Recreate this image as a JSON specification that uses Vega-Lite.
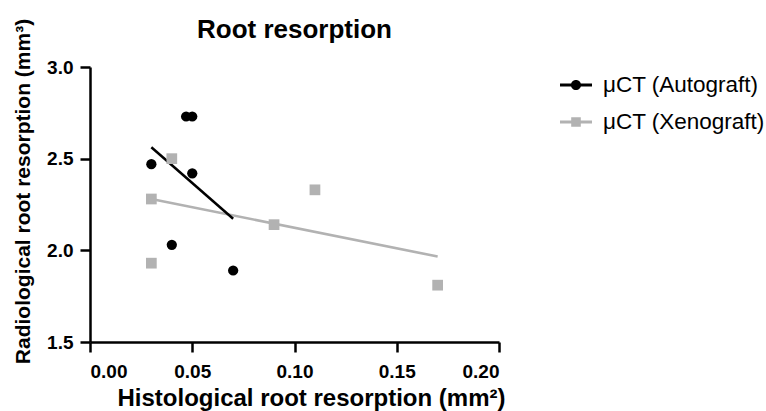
{
  "$schema": "https://vega.github.io/schema/vega-lite/v6.json",
  "width": 409,
  "height": 275,
  "autosize": "none",
  "padding": {"left": 90, "top": 67, "right": 267, "bottom": 69},
  "background": "white",
  "title": {
    "text": "Root resorption",
    "font": "Liberation Sans",
    "fontSize": 26,
    "fontWeight": "bold",
    "color": "black",
    "offset": 0,
    "dy": 25
  },
  "datasets": {
    "points": [
      {"series": "μCT (Autograft)", "histo": 0.03, "radio": 2.47},
      {"series": "μCT (Autograft)", "histo": 0.047, "radio": 2.73},
      {"series": "μCT (Autograft)", "histo": 0.05, "radio": 2.73},
      {"series": "μCT (Autograft)", "histo": 0.05, "radio": 2.42},
      {"series": "μCT (Autograft)", "histo": 0.04, "radio": 2.03},
      {"series": "μCT (Autograft)", "histo": 0.07, "radio": 1.89},
      {"series": "μCT (Xenograft)", "histo": 0.03, "radio": 2.28},
      {"series": "μCT (Xenograft)", "histo": 0.04, "radio": 2.5},
      {"series": "μCT (Xenograft)", "histo": 0.03, "radio": 1.93},
      {"series": "μCT (Xenograft)", "histo": 0.09, "radio": 2.14},
      {"series": "μCT (Xenograft)", "histo": 0.11, "radio": 2.33},
      {"series": "μCT (Xenograft)", "histo": 0.17, "radio": 1.81}
    ],
    "fits": [
      {"series": "μCT (Xenograft)", "histo": 0.03, "radio": 2.28},
      {"series": "μCT (Xenograft)", "histo": 0.17, "radio": 1.966},
      {"series": "μCT (Autograft)", "histo": 0.03, "radio": 2.562},
      {"series": "μCT (Autograft)", "histo": 0.07, "radio": 2.172}
    ]
  },
  "config": {
    "view": {"stroke": null},
    "font": "Liberation Sans",
    "axis": {
      "grid": false,
      "domainColor": "black",
      "domainWidth": 2.5,
      "tickColor": "black",
      "tickWidth": 2.5,
      "tickSize": 10,
      "labelFont": "Liberation Sans",
      "labelFontWeight": "bold",
      "labelFontSize": 19,
      "labelColor": "black",
      "titleFont": "Liberation Sans",
      "titleFontWeight": "bold",
      "titleColor": "black"
    },
    "legend": {
      "title": null,
      "orient": "none",
      "symbolSize": 1024,
      "symbolStrokeWidth": 0,
      "symbolOpacity": 1,
      "labelFont": "Liberation Sans",
      "labelFontSize": 22.5,
      "labelColor": "black",
      "labelOffset": 11,
      "labelLimit": 300
    }
  },
  "resolve": {"scale": {"color": "independent"}, "legend": {"color": "independent"}},
  "encoding": {
    "x": {
      "field": "histo",
      "type": "quantitative",
      "scale": {"domain": [0, 0.2], "nice": false, "zero": false},
      "axis": {
        "values": [0, 0.05, 0.1, 0.15, 0.2],
        "format": ".2f",
        "labelPadding": 10,
        "title": "Histological root resorption (mm²)",
        "titleFontSize": 24,
        "titlePadding": 5,
        "titleX": 221
      }
    },
    "y": {
      "field": "radio",
      "type": "quantitative",
      "scale": {"domain": [1.5, 3.0], "nice": false, "zero": false},
      "axis": {
        "values": [1.5, 2.0, 2.5, 3.0],
        "format": ".1f",
        "labelPadding": 7,
        "title": "Radiological root resorption (mm³)",
        "titleFontSize": 21,
        "titlePadding": 13,
        "titleY": 124
      }
    }
  },
  "layer": [
    {
      "data": {"name": "fits"},
      "transform": [{"filter": "datum.series === 'μCT (Xenograft)'"}],
      "mark": {"type": "line", "strokeWidth": 2.5, "color": "#b2b2b2"},
      "encoding": {}
    },
    {
      "data": {"name": "fits"},
      "transform": [{"filter": "datum.series === 'μCT (Autograft)'"}],
      "mark": {"type": "line", "strokeWidth": 2.5, "color": "#000000"},
      "encoding": {}
    },
    {
      "data": {"name": "points"},
      "transform": [{"filter": "datum.series === 'μCT (Xenograft)'"}],
      "mark": {"type": "point", "shape": "square", "filled": true, "opacity": 1, "size": 115, "strokeWidth": 0},
      "encoding": {
        "color": {
          "field": "series",
          "type": "nominal",
          "scale": {"domain": ["μCT (Xenograft)"], "range": ["#b2b2b2"]},
          "legend": {
            "legendX": 470,
            "legendY": 39,
            "symbolType": "M-1,-0.09H-0.25V0.09H-1Z M0.25,-0.09H1V0.09H0.25Z M-0.3,-0.3H0.3V0.3H-0.3Z"
          }
        }
      }
    },
    {
      "data": {"name": "points"},
      "transform": [{"filter": "datum.series === 'μCT (Autograft)'"}],
      "mark": {"type": "point", "shape": "circle", "filled": true, "opacity": 1, "size": 105, "strokeWidth": 0},
      "encoding": {
        "color": {
          "field": "series",
          "type": "nominal",
          "scale": {"domain": ["μCT (Autograft)"], "range": ["#000000"]},
          "legend": {
            "legendX": 470,
            "legendY": 2,
            "symbolType": "M-1,-0.09H-0.25V0.09H-1Z M0.25,-0.09H1V0.09H0.25Z M-0.32,0A0.32,0.32,0,1,1,0.32,0A0.32,0.32,0,1,1,-0.32,0Z"
          }
        }
      }
    }
  ]
}
